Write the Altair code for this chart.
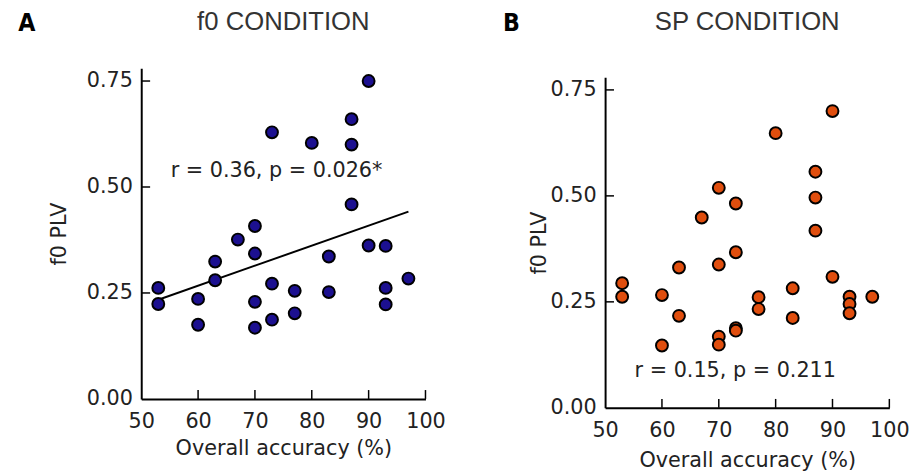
import altair as alt
import pandas as pd

# ---- data ----
acc_a = [53, 53, 60, 60, 63, 63, 67, 70, 70, 70, 70, 73, 73, 73, 77, 77, 80, 83, 83,
         87, 87, 87, 90, 90, 93, 93, 93, 97]
plv_a = [0.262, 0.224, 0.236, 0.175, 0.324, 0.280, 0.376, 0.408, 0.343, 0.229, 0.168,
         0.629, 0.272, 0.187, 0.255, 0.202, 0.604, 0.336, 0.252, 0.660, 0.600, 0.459,
         0.750, 0.362, 0.361, 0.262, 0.223, 0.284]

acc_b = [53, 53, 60, 60, 63, 63, 67, 70, 70, 70, 70, 73, 73, 73, 73, 77, 77, 80, 83, 83,
         87, 87, 87, 90, 90, 93, 93, 93, 97]
plv_b = [0.294, 0.262, 0.266, 0.147, 0.331, 0.217, 0.449, 0.519, 0.338, 0.168, 0.149,
         0.482, 0.367, 0.188, 0.182, 0.261, 0.233, 0.648, 0.282, 0.212, 0.557, 0.496,
         0.418, 0.700, 0.309, 0.262, 0.245, 0.223, 0.262]

fit_x_a = [53, 97]
fit_y_a = [0.234, 0.442]

x_ticks = [50, 60, 70, 80, 90, 100]
y_ticks = [0.0, 0.25, 0.50, 0.75]
x_inner_ticks = [60, 70, 80, 90, 100]
y_inner_ticks = [0.25, 0.50, 0.75]

stat_a = {"acc": [73.8], "plv": [0.537], "t": ["r = 0.36, p = 0.026*"]}
stat_b = {"acc": [72.9], "plv": [0.086], "t": ["r = 0.15, p = 0.211"]}

titles = ["f0 CONDITION", "SP CONDITION"]
letters = ["A", "B"]

W, H = 288, 335
FONT = "DejaVu Sans"
FS = 21
TXT = "#222222"


def panel(acc, plv, color, title, letter, stat, shift, ytp, xtp, lx, fit=None):
    h = H + shift
    xs = alt.Scale(domain=[50, 100], nice=False, zero=False)
    ys = alt.Scale(domain=[0, 0.78], nice=False, zero=False, range=[h, shift])
    xax = alt.Axis(values=x_ticks, format="d", ticks=False, tickSize=0, grid=False,
                   domainWidth=2, domainColor="black", labelPadding=12,
                   labelFont=FONT, labelFontSize=FS, labelColor=TXT,
                   title="Overall accuracy (%)", titleFont=FONT, titleFontSize=FS,
                   titleFontWeight="normal", titleColor=TXT, titlePadding=xtp,
                   labelFlush=False, labelOverlap=False)
    yax = alt.Axis(values=y_ticks, format=".2f", ticks=False, tickSize=0, grid=False,
                   domainWidth=2, domainColor="black", labelPadding=9,
                   labelFont=FONT, labelFontSize=FS, labelColor=TXT,
                   title="f0 PLV", titleFont=FONT, titleFontSize=FS,
                   titleFontWeight="normal", titleColor=TXT, titlePadding=ytp,
                   labelFlush=False, labelOverlap=False)
    X = alt.X("acc:Q", scale=xs, axis=xax)
    Y = alt.Y("plv:Q", scale=ys, axis=yax)

    pts = alt.Chart(pd.DataFrame({"acc": acc, "plv": plv})).mark_circle(
        size=145, color=color, stroke="black", strokeWidth=2, opacity=1
    ).encode(x=X, y=Y)

    xt = alt.Chart(pd.DataFrame({"acc": x_inner_ticks})).mark_rule(
        color="black", strokeWidth=1.5
    ).encode(x=X, y=alt.value(h), y2=alt.value(h - 9))
    yt = alt.Chart(pd.DataFrame({"plv": y_inner_ticks})).mark_rule(
        color="black", strokeWidth=1.5
    ).encode(y=Y, x=alt.value(0), x2=alt.value(9))

    st = alt.Chart(pd.DataFrame(stat)).mark_text(
        font=FONT, fontSize=FS, color=TXT, align="center", baseline="middle"
    ).encode(x=X, y=Y, text="t:N")

    let = alt.Chart(pd.DataFrame({"t": [letter]})).mark_text(
        font="Liberation Sans Narrow, DejaVu Sans Condensed, sans-serif", fontSize=25,
        fontWeight="bold", color="black", align="center", baseline="middle"
    ).encode(x=alt.value(lx), y=alt.value(-46), text="t:N")

    ttl = alt.Chart(pd.DataFrame({"t": [title]})).mark_text(
        font="Liberation Sans", fontSize=26, color="#333333",
        align="center", baseline="alphabetic"
    ).encode(x=alt.value(W / 2), y=alt.value(-39), text="t:N")

    layers = [xt, yt]
    if fit is not None:
        fdf = pd.DataFrame({"acc": fit[0], "plv": fit[1]})
        layers.append(alt.Chart(fdf).mark_line(color="black", strokeWidth=2).encode(x=X, y=Y))
    layers += [pts, st, let, ttl]

    return alt.layer(*layers).properties(width=W, height=h)


A = panel(acc_a, plv_a, "#1c1090", titles[0], letters[0], stat_a, 0, 17, 6, -116,
          fit=(fit_x_a, fit_y_a))
B = panel(acc_b, plv_b, "#e04e0e", titles[1], letters[1], stat_b, 9, 1, 9, -95)

chart = alt.hconcat(A, B, spacing=57).properties(
    padding={"left": 10, "top": -2, "right": 5, "bottom": 5}
).configure_view(stroke=None)

chart.save("out.html", embed_options={"renderer": "svg", "actions": False})
